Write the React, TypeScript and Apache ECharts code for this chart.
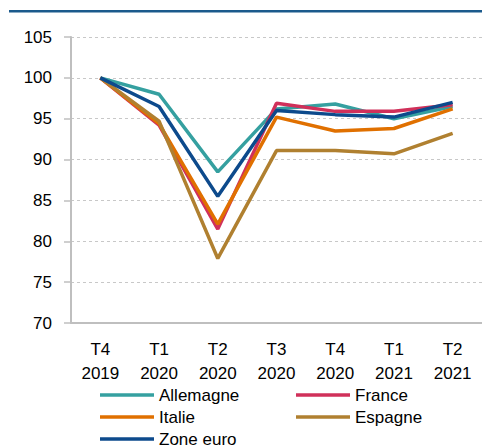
import React, { useEffect, useRef } from "react";
import * as echarts from "echarts";

const categories = ["T4\n2019", "T1\n2020", "T2\n2020", "T3\n2020", "T4\n2020", "T1\n2021", "T2\n2021"];
const allemagne = [100, 98.0, 88.5, 96.2, 96.8, 95.0, 96.5];
const france = [100, 94.2, 81.5, 96.9, 95.9, 95.9, 96.7];
const italie = [100, 94.4, 82.1, 95.2, 93.5, 93.8, 96.2];
const espagne = [100, 94.7, 77.9, 91.1, 91.1, 90.7, 93.2];
const zoneEuro = [100, 96.5, 85.5, 96.0, 95.5, 95.2, 97.0];

const seriesNames = ["Allemagne", "France", "Italie", "Espagne", "Zone euro"];
const seriesData = [allemagne, france, italie, espagne, zoneEuro];
const colors = ["#35a0a0", "#d0305a", "#e07000", "#b08030", "#0d4a8c"];

const FONT = "'Liberation Sans', Arial, sans-serif";

export default function App() {
  const ref = useRef<HTMLDivElement>(null);
  useEffect(() => {
    if (!ref.current) return;
    const chart = echarts.init(ref.current, null, { renderer: "svg" });
    const legendBase = {
      orient: "horizontal" as const,
      icon: "rect",
      itemWidth: 54,
      itemHeight: 3.5,
      padding: 0,
      textStyle: { fontFamily: FONT, fontSize: 17, color: "#000", lineHeight: 18 },
    };
    // legend slots: [name, left, top]
    const slots: [string, number, number][] = [
      ["Allemagne", 100, 386],
      ["France", 296, 386],
      ["Italie", 100, 408],
      ["Espagne", 296, 408],
      ["Zone euro", 100, 430],
    ];
    chart.setOption({
      animation: false,
      color: colors,
      textStyle: { fontFamily: FONT },
      graphic: [
        {
          type: "line",
          shape: { x1: 9, y1: 11.2, x2: 482, y2: 11.2 },
          style: { stroke: "#1b5a8c", lineWidth: 2.5 },
        },
      ],
      grid: { left: 71, right: 0, top: 37, bottom: 124 },
      legend: slots.map(([name, left, top]) => ({ ...legendBase, left, top, data: [name] })),
      xAxis: {
        type: "category",
        data: categories,
        boundaryGap: true,
        axisLine: { show: true, lineStyle: { color: "#bfbfbf", width: 2 } },
        axisTick: { show: false },
        axisLabel: {
          fontFamily: FONT,
          fontSize: 17,
          color: "#000",
          lineHeight: 24,
          margin: 14,
          interval: 0,
        },
      },
      yAxis: {
        type: "value",
        min: 70,
        max: 105,
        interval: 5,
        axisLine: { show: true, lineStyle: { color: "#bfbfbf", width: 2 } },
        axisTick: { show: true, length: 7, lineStyle: { color: "#bfbfbf", width: 1.5 } },
        axisLabel: { fontFamily: FONT, fontSize: 17, color: "#000", margin: 19 },
        splitLine: { show: true, lineStyle: { color: "#c8c8c8", type: [3, 3], width: 1 } },
      },
      series: seriesNames.map((name, i) => ({
        name,
        type: "line",
        data: seriesData[i],
        symbol: "none",
        lineStyle: { width: 3.5, color: colors[i] },
        itemStyle: { color: colors[i] },
        z: 2 + i,
      })),
    });
    return () => chart.dispose();
  }, []);
  return <div ref={ref} style={{ width: 482, height: 447, position: "absolute", left: 0, top: 0 }} />;
}
